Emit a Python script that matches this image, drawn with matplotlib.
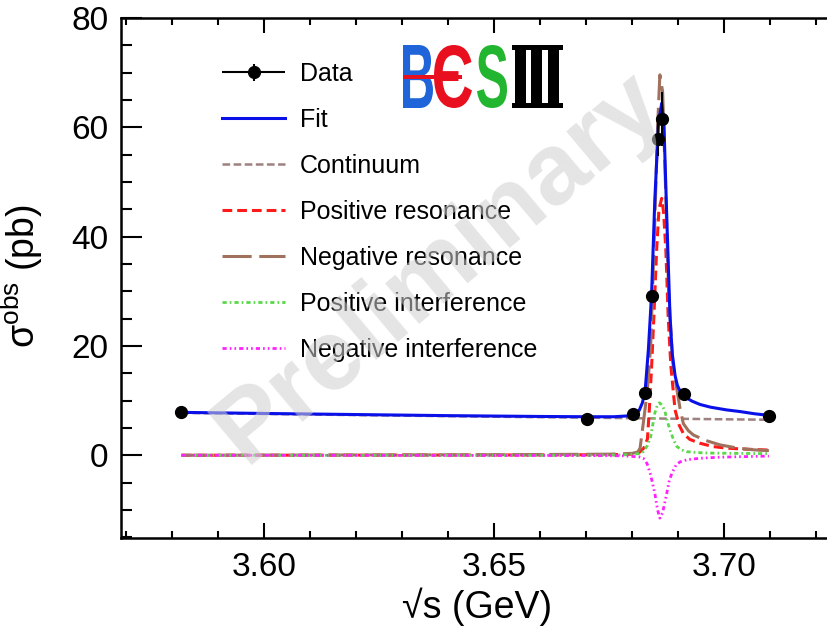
import numpy as np
import matplotlib
matplotlib.use('Agg')
import matplotlib.pyplot as plt
from matplotlib.ticker import MultipleLocator, FormatStrFormatter
from matplotlib.legend_handler import HandlerErrorbar
from matplotlib.textpath import TextPath
from matplotlib.font_manager import FontProperties
from matplotlib.patches import PathPatch, Rectangle
from matplotlib.transforms import Affine2D, IdentityTransform

# data points
data_x = [3.5820, 3.6702, 3.6801, 3.6828, 3.6842, 3.6855, 3.6864, 3.6913, 3.7097]
data_y = [7.85, 6.6, 7.56, 11.45, 29.1, 57.8, 61.5, 11.2, 7.25]
data_err = [0.4, 0.4, 0.5, 0.8, 1.0, 3.0, 5.0, 0.7, 0.4]

# fit curves
fit_x = [3.582, 3.60, 3.62, 3.64, 3.66, 3.670, 3.676, 3.679, 3.6805, 3.6815, 3.6822,
         3.6828, 3.6835, 3.6842, 3.6849, 3.6857, 3.6864, 3.6869, 3.6875, 3.6882, 3.6887,
         3.6893, 3.6898, 3.6904, 3.6911, 3.6918, 3.6930, 3.6947, 3.6970, 3.7005, 3.7034,
         3.7065, 3.7097]
fit_y = [7.85, 7.65, 7.45, 7.25, 7.10, 7.05, 7.05, 7.2, 7.5, 8.2, 9.6,
         11.8, 19.3, 29.5, 46.7, 60.7, 64.4, 60.1, 43.6, 25.4, 18.5,
         14.6, 12.8, 11.7, 11.0, 10.5, 9.9, 9.3, 8.8, 8.3, 8.0,
         7.6, 7.3]

cont_x = [3.582, 3.62, 3.65, 3.67, 3.68, 3.69, 3.70, 3.7097]
cont_y = [7.75, 7.35, 7.05, 6.88, 6.78, 6.68, 6.58, 6.50]

pres_x = [3.582, 3.65, 3.675, 3.680, 3.6815, 3.6825, 3.6833, 3.6837, 3.6842, 3.6847,
          3.6853, 3.6858, 3.6864, 3.6868, 3.6873, 3.6878, 3.6884, 3.6893, 3.6902, 3.6911,
          3.6925, 3.6947, 3.6975, 3.7005, 3.7050, 3.7097]
pres_y = [0.0, 0.05, 0.1, 0.2, 0.5, 1.3, 3.0, 8.3, 16.2, 25.4,
          37.6, 45.0, 47.0, 44.5, 37.6, 25.4, 16.2, 8.3, 5.5, 4.0,
          2.9, 2.2, 1.6, 1.3, 1.1, 0.95]

nres_x = [3.582, 3.65, 3.675, 3.680, 3.6812, 3.6817, 3.6824, 3.6833, 3.6840, 3.6848,
          3.6855, 3.6860, 3.6866, 3.6872, 3.6879, 3.6888, 3.6897, 3.6904, 3.6911, 3.6922,
          3.6933, 3.6960, 3.6991, 3.7030, 3.7063, 3.7097]
nres_y = [0.0, 0.1, 0.2, 0.35, 0.6, 1.3, 5.9, 12.0, 20.0, 40.0,
          60.0, 69.6, 66.5, 50.0, 30.0, 17.0, 12.0, 8.5, 5.8, 4.5,
          3.7, 2.7, 1.9, 1.3, 1.0, 0.85]

pint_x = [3.582, 3.67, 3.678, 3.6815, 3.6824, 3.6833, 3.6840, 3.6849, 3.6855, 3.6859,
          3.6865, 3.6871, 3.6876, 3.6882, 3.6890, 3.6897, 3.6907, 3.6918, 3.6940, 3.6970,
          3.7020, 3.7097]
pint_y = [0.0, 0.0, 0.05, 0.3, 0.66, 1.8, 3.4, 7.7, 9.3, 9.6,
          9.2, 8.0, 6.3, 4.6, 2.8, 1.6, 1.0, 0.66, 0.5, 0.4,
          0.35, 0.3]

nint_x = [3.582, 3.67, 3.678, 3.6815, 3.6824, 3.6832, 3.6839, 3.6849, 3.6855, 3.6860,
          3.6866, 3.6875, 3.6880, 3.6886, 3.6895, 3.6904, 3.6920, 3.6947, 3.6990, 3.7040,
          3.7097]
nint_y = [0.0, -0.05, -0.1, -0.3, -0.55, -1.5, -3.3, -6.95, -10.0, -11.5,
          -10.5, -6.95, -4.8, -3.3, -1.8, -1.2, -0.8, -0.55, -0.35, -0.25,
          -0.15]

plt.rcParams['font.family'] = ['Liberation Sans', 'DejaVu Sans']
plt.rcParams['mathtext.fontset'] = 'custom'
plt.rcParams['mathtext.rm'] = 'Liberation Sans'
plt.rcParams['lines.scale_dashes'] = False

W, H = 827, 628
fig = plt.figure(figsize=(W / 100, H / 100), dpi=100)
ax = fig.add_axes([120.7 / W, (H - 537.8) / H, (W - 120.7) / W, (537.8 - 18) / H])

l_cont, = ax.plot(cont_x, cont_y, color='#9e8080', lw=1.8, dashes=(5.5, 2.5), label='Continuum')
l_pres, = ax.plot(pres_x, pres_y, color='#ff1a1a', lw=2.2, dashes=(7, 3.6), label='Positive resonance')
l_nres, = ax.plot(nres_x, nres_y, color='#a0725e', lw=2.2, dashes=(21, 5.5), label='Negative resonance')
l_pint, = ax.plot(pint_x, pint_y, color='#5ad84a', lw=2.0, dashes=(3, 2.2, 1.2, 2.2),
                  label='Positive interference')
l_nint, = ax.plot(nint_x, nint_y, color='#ff22ff', lw=2.0, dashes=(3, 2.2, 1.2, 2.2, 1.2, 2.2),
                  label='Negative interference')
l_fit, = ax.plot(fit_x, fit_y, color='#0a10e8', lw=2.2, label='Fit')
eb = ax.errorbar(data_x, data_y, yerr=data_err, xerr=np.zeros(len(data_x)), fmt='o',
                 color='k', ms=8.5, elinewidth=1.5, capsize=0, label='Data', zorder=6)

ax.set_xlim(3.5688, 3.72233)
ax.set_ylim(-15.1, 80)
ax.xaxis.set_major_locator(MultipleLocator(0.05))
ax.xaxis.set_minor_locator(MultipleLocator(0.01))
ax.xaxis.set_major_formatter(FormatStrFormatter('%.2f'))
ax.yaxis.set_major_locator(MultipleLocator(20))
ax.yaxis.set_minor_locator(MultipleLocator(5))
ax.tick_params(axis='both', which='both', direction='in', top=True, right=False,
               labelsize=24, width=1.5)
ax.tick_params(axis='x', which='major', length=11, pad=10)
ax.tick_params(axis='x', which='minor', length=5.3)
ax.tick_params(axis='y', which='major', length=15, pad=9)
ax.tick_params(axis='y', which='minor', length=8)
for s in ax.spines.values():
    s.set_linewidth(1.8)
ax.spines['right'].set_visible(False)

ax.set_xlabel('√s (GeV)', fontsize=27)
ax.xaxis.set_label_coords((477 - 120.7) / (W - 120.7), -0.0966)
ax.set_ylabel('σ$^{\\mathrm{obs}}$ (pb)', fontsize=27)
ax.yaxis.set_label_coords(-75.7 / (W - 120.7), 0.5037)

ax.legend([eb, l_fit, l_cont, l_pres, l_nres, l_pint, l_nint],
          ['Data', 'Fit', 'Continuum', 'Positive resonance', 'Negative resonance',
           'Positive interference', 'Negative interference'],
          handler_map={eb: HandlerErrorbar(xerr_size=1.26, yerr_size=0.35)},
          loc='upper left', bbox_to_anchor=(222 / W, 1 - 62 / H), bbox_transform=fig.transFigure,
          frameon=False, fontsize=18, handlelength=2.52, handletextpad=0.6,
          labelspacing=0.88, borderpad=0, borderaxespad=0)


# BESIII logo, placed in image pixels (top-left origin)
def logo_glyph(ch, color, x0, x1, top, bottom):
    tp = TextPath((0, 0), ch, size=100, prop=FontProperties(family='Liberation Sans', weight='bold'))
    bb = tp.get_extents()
    tr = Affine2D().translate(-bb.x0, -bb.y0).scale((x1 - x0) / bb.width, (bottom - top) / bb.height)
    tr = tr.translate(x0, H - bottom)
    fig.add_artist(PathPatch(tp, transform=tr, fc=color, ec='none', zorder=5))


def logo_box(x0, x1, top, bottom, color):
    fig.add_artist(Rectangle((x0, H - bottom), x1 - x0, bottom - top, transform=IdentityTransform(),
                             fc=color, ec='none', zorder=5))


logo_glyph('B', '#1f64d8', 403, 433, 45, 108)
logo_glyph('Є', '#e8101e', 434, 472, 45, 108)
logo_box(403, 462, 74.5, 79, '#e8101e')
logo_glyph('S', '#22b530', 477, 507, 45, 108)
logo_box(512, 563, 45, 50, 'k')
logo_box(512, 563, 103, 108, 'k')
for bx in (515, 531, 548):
    logo_box(bx, bx + 11, 45, 108, 'k')

fig.text(440 / W, 1 - 268 / H, 'Preliminary', fontsize=73, fontweight='bold', color='#cfcfcf',
         alpha=0.55, rotation=40, ha='center', va='center', zorder=10)

fig.savefig('out.png', dpi=100)
